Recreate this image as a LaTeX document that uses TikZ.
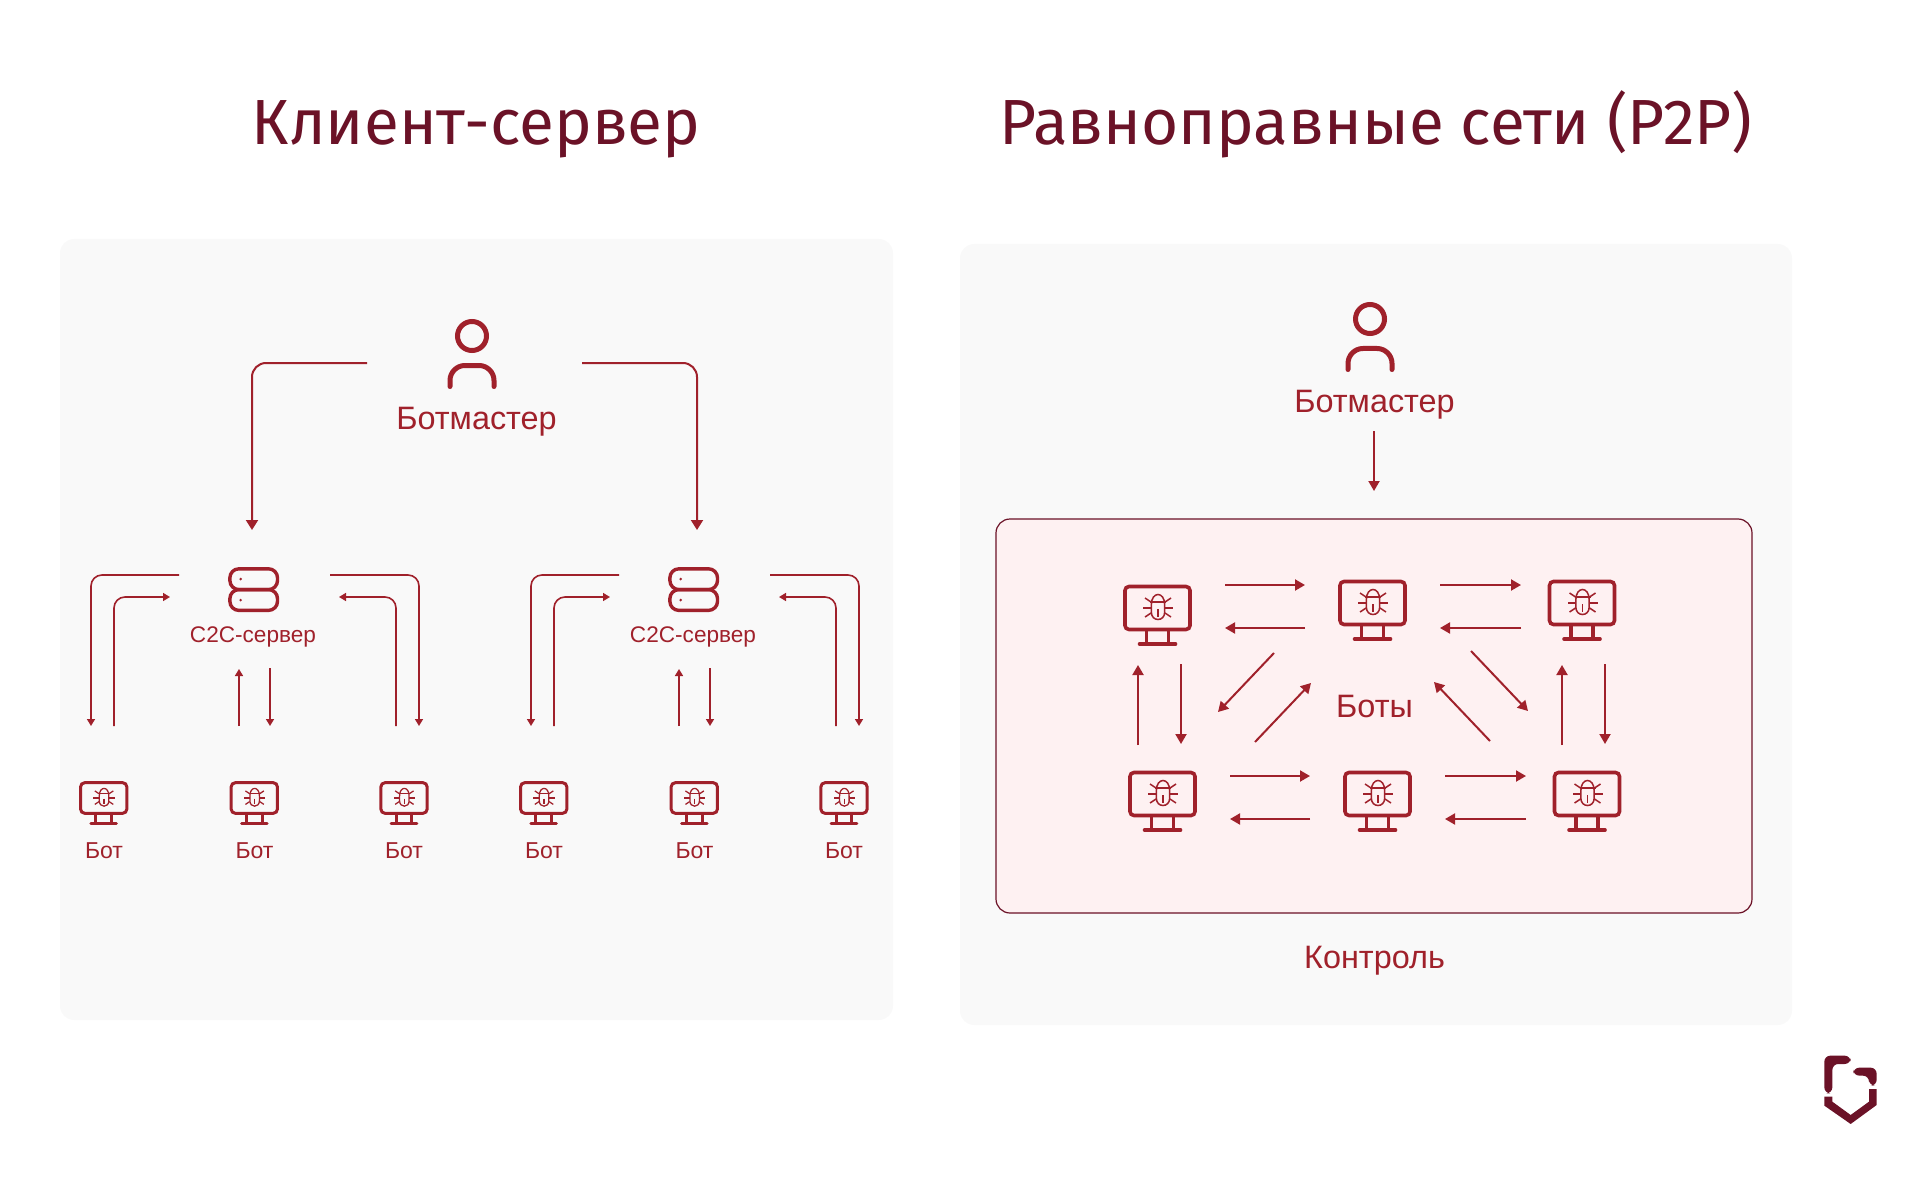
\documentclass[tikz,border=0pt]{standalone}
\usepackage{fontspec}
\setmainfont{Liberation Sans}
\newfontfamily\titlefont{Fira Sans}
\usetikzlibrary{arrows.meta}
\definecolor{botred}{HTML}{A0212B}
\definecolor{darkred}{HTML}{6B1227}
\definecolor{panelgray}{HTML}{F9F9F9}
\definecolor{panelpink}{HTML}{FEF1F2}

\begin{document}
\begin{tikzpicture}[x=1pt,y=-1pt,
        every node/.style={inner sep=0,anchor=base,text=botred},
        title/.style={text=darkred,font=\titlefont\fontsize{63.8}{70}\selectfont},
        biglabel/.style={font=\fontsize{32.4}{36}\selectfont},
        midlabel/.style={font=\fontsize{22.6}{28}\selectfont},
        botlabel/.style={font=\fontsize{23}{28}\selectfont},
        panel/.style={fill=panelgray,rounded corners=14pt},
        bigarrow/.style={draw=botred,line width=2pt,rounded corners=14pt,-{Triangle[length=10pt,width=12pt]}},
        thinarrow/.style={draw=botred,line width=1.6pt,rounded corners=11pt,-{Triangle[length=7pt,width=8pt]}},
        peerarrow/.style={draw=botred,line width=2pt,-{Triangle[length=10pt,width=11pt]}},
        pics/person/.style={code={
            \draw[botred,line width=5pt] (0,0) circle[radius=14.5];
            \draw[botred,line width=5pt,line cap=round,rounded corners=15pt] (-22,50.5) -- (-22,29.5) -- (22,29.5) -- (22,50.5);
        }},
        pics/server/.style={code={
            \draw[botred,line width=3.4pt,rounded corners=9pt] (-23.8,-20.8) rectangle (23.8,0);
            \draw[botred,line width=3.4pt,rounded corners=9pt] (-23.8,0) rectangle (23.8,20.8);
            \fill[botred] (-13,-10.5) circle[radius=1.4];
            \fill[botred] (-13,10.5) circle[radius=1.4];
        }},
        pics/monitor/.style={code={
            \draw[botred,line width=#1 pt,rounded corners=4pt] (-32.5,-21.5) rectangle (32.5,21.5);
            \draw[botred,line width=#1 pt] (-11,21.5) -- (-11,36);
            \draw[botred,line width=#1 pt] (11,21.5) -- (11,36);
            \draw[botred,line width=#1 pt,line cap=round] (-18,36) -- (18,36);
            \draw[botred,line width=#1*0.42pt] (-6.2,-3) .. controls (-6.2,-17) and (7.2,-17) .. (7.2,-3) -- (7.2,4) .. controls (7.2,14) and (-6.2,14) .. (-6.2,4) -- cycle;
            \draw[botred,line width=#1*0.42pt] (-7.5,-6) -- (8.5,-6);
            \draw[botred,line width=#1*0.42pt] (.5,1) -- (.5,9);
            \draw[botred,line width=#1*0.42pt] (-6.5,-6) -- (-12.5,-10);
            \draw[botred,line width=#1*0.42pt] (7.5,-6) -- (13.5,-10);
            \draw[botred,line width=#1*0.42pt] (-6.5,0) -- (-14.5,0);
            \draw[botred,line width=#1*0.42pt] (7.5,0) -- (15.5,0);
            \draw[botred,line width=#1*0.42pt] (-6.5,5) -- (-12.5,9);
            \draw[botred,line width=#1*0.42pt] (7.5,5) -- (13.5,9);
        }},
        ]
\useasboundingbox (0,0) rectangle (1920,1182);

\fill[panel] (60,239) rectangle (893,1020);
\fill[panel] (960,244) rectangle (1792,1025);
\draw[draw=darkred,fill=panelpink,line width=1.2pt,rounded corners=14pt] (996,519) rectangle (1752,913);

\node[title] (titleL) at (476,145) {Клиент-сервер};
\node[title] (titleR) at (1376,145) {Равноправные сети (P2P)};

% client-server side
\pic (masterL) at (472,336) {person};
\node[biglabel] (masterTextL) at (476.5,429) {Ботмастер};
\coordinate (mL1) at (367,363);
\coordinate (mL2) at (252,530);
\coordinate (mL3) at (582,363);
\coordinate (mL4) at (697,530);
\draw[bigarrow] (mL1) -| (mL2);
\draw[bigarrow] (mL3) -| (mL4);

\pic (serverA) at (253.7,589.6) {server};
\pic (serverB) at (693.7,589.6) {server};
\node[midlabel] (serverTextA) at (253,642) {C2C-сервер};
\node[midlabel] (serverTextB) at (693,642) {C2C-сервер};

\coordinate (A1) at (179,575);
\coordinate (A2) at (91,726);
\coordinate (A3) at (114,726);
\coordinate (A4) at (170,597);
\coordinate (A5) at (330,575);
\coordinate (A6) at (419,726);
\coordinate (A7) at (396,726);
\coordinate (A8) at (339,597);
\coordinate (A9) at (239,726);
\coordinate (A10) at (239,669);
\coordinate (A11) at (270,668);
\coordinate (A12) at (270,726);
\draw[thinarrow] (A1) -| (A2);
\draw[thinarrow] (A3) |- (A4);
\draw[thinarrow] (A5) -| (A6);
\draw[thinarrow] (A7) |- (A8);
\path (A9) edge[thinarrow] (A10);
\path (A11) edge[thinarrow] (A12);

\coordinate (B1) at (619,575);
\coordinate (B2) at (531,726);
\coordinate (B3) at (554,726);
\coordinate (B4) at (610,597);
\coordinate (B5) at (770,575);
\coordinate (B6) at (859,726);
\coordinate (B7) at (836,726);
\coordinate (B8) at (779,597);
\coordinate (B9) at (679,726);
\coordinate (B10) at (679,669);
\coordinate (B11) at (710,668);
\coordinate (B12) at (710,726);
\draw[thinarrow] (B1) -| (B2);
\draw[thinarrow] (B3) |- (B4);
\draw[thinarrow] (B5) -| (B6);
\draw[thinarrow] (B7) |- (B8);
\path (B9) edge[thinarrow] (B10);
\path (B11) edge[thinarrow] (B12);

\pic[scale=.71] (bot1) at (103.7,798) {monitor=3};
\pic[scale=.71] (bot2) at (254.3,798) {monitor=3};
\pic[scale=.71] (bot3) at (404,798) {monitor=3};
\pic[scale=.71] (bot4) at (543.7,798) {monitor=3};
\pic[scale=.71] (bot5) at (694.3,798) {monitor=3};
\pic[scale=.71] (bot6) at (844,798) {monitor=3};
\node[botlabel] (botText1) at (104,858) {Бот};
\node[botlabel] (botText2) at (254.5,858) {Бот};
\node[botlabel] (botText3) at (404,858) {Бот};
\node[botlabel] (botText4) at (544,858) {Бот};
\node[botlabel] (botText5) at (694.5,858) {Бот};
\node[botlabel] (botText6) at (844,858) {Бот};

% p2p side
\pic (masterR) at (1370,319) {person};
\node[biglabel] (masterTextR) at (1374.5,412.5) {Ботмастер};
\coordinate (mR1) at (1374,431);
\coordinate (mR2) at (1374,491);
\path (mR1) edge[peerarrow] (mR2);

\pic (peer1) at (1157.5,608) {monitor=3.6};
\pic (peer2) at (1372.5,603) {monitor=3.6};
\pic (peer3) at (1582,603) {monitor=3.6};
\pic (peer4) at (1162.5,794) {monitor=3.6};
\pic (peer5) at (1377.5,794) {monitor=3.6};
\pic (peer6) at (1587,794) {monitor=3.6};
\node[biglabel] (botsText) at (1374.5,717.5) {Боты};
\node[biglabel] (controlText) at (1374.5,968) {Контроль};

\coordinate (t1) at (1225,585);
\coordinate (t2) at (1305,585);
\coordinate (t3) at (1305,628);
\coordinate (t4) at (1225,628);
\coordinate (t5) at (1440,585);
\coordinate (t6) at (1521,585);
\coordinate (t7) at (1521,628);
\coordinate (t8) at (1440,628);
\path (t1) edge[peerarrow] (t2);
\path (t3) edge[peerarrow] (t4);
\path (t5) edge[peerarrow] (t6);
\path (t7) edge[peerarrow] (t8);

\coordinate (u1) at (1230,776);
\coordinate (u2) at (1310,776);
\coordinate (u3) at (1310,819);
\coordinate (u4) at (1230,819);
\coordinate (u5) at (1445,776);
\coordinate (u6) at (1526,776);
\coordinate (u7) at (1526,819);
\coordinate (u8) at (1445,819);
\path (u1) edge[peerarrow] (u2);
\path (u3) edge[peerarrow] (u4);
\path (u5) edge[peerarrow] (u6);
\path (u7) edge[peerarrow] (u8);

\coordinate (v1) at (1138,745);
\coordinate (v2) at (1138,665);
\coordinate (v3) at (1181,664);
\coordinate (v4) at (1181,744);
\coordinate (v5) at (1562,745);
\coordinate (v6) at (1562,665);
\coordinate (v7) at (1605,664);
\coordinate (v8) at (1605,744);
\path (v1) edge[peerarrow] (v2);
\path (v3) edge[peerarrow] (v4);
\path (v5) edge[peerarrow] (v6);
\path (v7) edge[peerarrow] (v8);

\coordinate (w1) at (1274,653);
\coordinate (w2) at (1218,712);
\coordinate (w3) at (1255,742);
\coordinate (w4) at (1311,683);
\coordinate (w5) at (1471,651);
\coordinate (w6) at (1528,711);
\coordinate (w7) at (1490,741);
\coordinate (w8) at (1434,682);
\path (w1) edge[peerarrow] (w2);
\path (w3) edge[peerarrow] (w4);
\path (w5) edge[peerarrow] (w6);
\path (w7) edge[peerarrow] (w8);

% logo
\begin{scope}[shift={(1800,1040)},x=.3333pt,y=-.3333pt]
\fill[darkred,rounded corners=6pt] (152,47) -- (73,47) -- (73,160) -- (97,160) -- (97,72) -- (152,72) -- cycle;
\fill[darkred,rounded corners=6pt] (160,83) -- (230,83) -- (230,137) -- (207,137) -- (207,107) -- (160,107) -- cycle;
\fill[darkred] (73,170) -- (97,170) -- (97,185) -- (152,225) -- (207,185) -- (207,147) -- (230,147) -- (230,195) -- (152,252) -- (73,197) -- cycle;
\end{scope}
\end{tikzpicture}
\end{document}
